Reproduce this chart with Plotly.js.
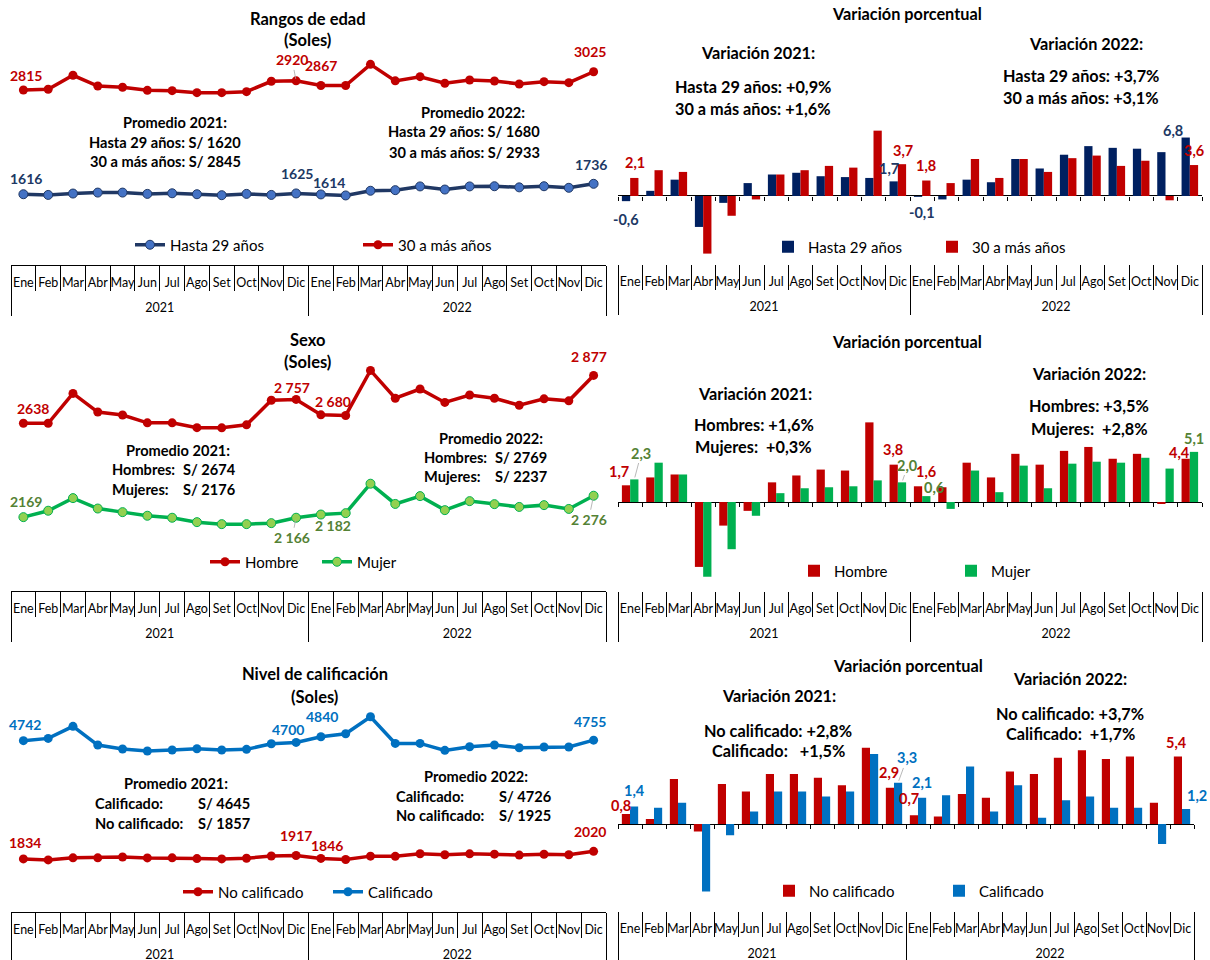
<!DOCTYPE html>
<html><head><meta charset="utf-8">
<script src="https://cdn.plot.ly/plotly-3.0.1.min.js"></script>
<style>html,body{margin:0;padding:0;background:#fff}#chart{width:1210px;height:960px}</style>
</head><body><div id="chart"></div>
<script>
// ---------------- DATA ----------------
const months = ['Ene','Feb','Mar','Abr','May','Jun','Jul','Ago','Set','Oct','Nov','Dic'];
const years = ['2021','2022'];

// Rangos de edad (Soles)
const hasta29 = [1616,1608,1624,1635,1635,1620,1627,1616,1605,1620,1608,1625, 1614,1602,1656,1663,1706,1670,1706,1708,1695,1708,1690,1736];
const mas30   = [2815,2823,2984,2861,2846,2811,2807,2784,2784,2796,2915,2920, 2867,2867,3110,2920,2968,2892,2930,2919,2884,2911,2899,3025];
// Variación porcentual (edad)
const varHasta29 = [-0.6,0.6,1.9,-3.6,-0.8,1.5,2.5,2.7,2.3,2.2,2.1,1.7, -0.1,-0.4,1.9,1.6,4.3,3.2,4.8,5.8,5.6,5.5,5.1,6.8];
const varMas30   = [2.1,3.0,2.8,-6.7,-2.3,-0.4,2.5,3.0,3.5,3.3,7.6,3.7, 1.8,1.5,4.3,2.1,4.3,2.8,4.4,4.7,3.5,4.1,-0.5,3.6];

// Sexo (Soles)
const hombre = [2638,2638,2787,2694,2679,2640,2640,2616,2615,2630,2753,2757, 2680,2677,2902,2763,2809,2742,2779,2763,2728,2760,2750,2877];
const mujer  = [2169,2201,2264,2212,2194,2176,2166,2144,2134,2134,2139,2166, 2182,2189,2336,2235,2274,2204,2249,2234,2220,2229,2210,2276];
// Variación porcentual (sexo)
const varHombre = [1.7,2.5,2.8,-6.6,-2.4,-0.9,2.0,2.7,3.3,3.2,8.1,3.8, 1.6,1.5,4.0,2.5,4.9,3.8,5.2,5.6,4.4,4.9,-0.2,4.4];
const varMujer  = [2.3,4.0,2.8,-7.6,-4.8,-1.4,0.9,1.4,1.5,1.6,2.2,2.0, 0.6,-0.7,3.2,1.0,3.7,1.4,3.9,4.1,4.0,4.5,3.4,5.1];

// Nivel de calificación (Soles)
const noCalificado = [1834,1809,1860,1860,1880,1858,1860,1842,1834,1850,1905,1917, 1846,1820,1902,1898,1960,1936,1959,1951,1928,1948,1936,2020];
const calificado   = [4742,4799,5095,4635,4537,4488,4512,4545,4512,4529,4668,4700, 4840,4914,5332,4676,4676,4504,4594,4635,4569,4586,4586,4755];
// Variación porcentual (calificación)
const varNoCalificado = [0.8,0.4,3.6,-0.6,3.2,2.6,4.0,4.0,3.7,3.1,6.1,2.9, 0.7,0.6,2.4,2.1,4.2,4.0,5.3,5.9,5.2,5.4,1.7,5.4];
const varCalificado   = [1.4,1.3,1.7,-5.4,-0.9,1.0,2.6,2.6,2.2,2.6,5.6,3.3, 2.1,2.3,4.6,1.0,3.1,0.5,1.9,2.2,1.3,1.3,-1.6,1.2];

// ---------------- HELPERS ----------------
const W = 1210, H = 960;
const FONT = 'Lato, "Liberation Sans", Arial, sans-serif';
const RED = '#C00000', NAVY = '#203864', NAVYBAR = '#002060', GREEN = '#00B050', LGREEN = '#92D050', DGREEN = '#548235', BLUE = '#0070C0';
const BARGAP = 0.32;
const barOff = (1 - BARGAP) / 4;
const TS = 16.5;   // titles
const RS = 16.3;   // right-panel notes
const PS = 14.6;   // promedio notes

const xYear = years.flatMap(y => months.map(() => y));
const xMonth = years.flatMap(() => months.slice());
const X = [xYear, xMonth];
const N = xMonth.length;
const RANGE = [-0.5, N - 0.5];
const monthIdx = xMonth.map((m, i) => i);
const yearCenters = years.map((y, k) => k * months.length + (months.length - 1) / 2);
const yearBounds = [-0.5].concat(years.map((y, k) => (k + 1) * months.length - 0.5));

function dom(top, bottom) { return [1 - bottom / H, 1 - top / H]; }
function xd(l, r) { return [l / W, r / W]; }

// main (data) axis: month separators as boundary ticks
function catAxis(l, r, anchor, line) {
  return {
    type: 'multicategory', domain: xd(l, r), anchor: anchor, range: RANGE,
    showline: line, linecolor: '#000', linewidth: 1,
    ticks: 'outside', tickson: 'boundaries', ticklen: 25, tickcolor: '#000', tickwidth: 1,
    showticklabels: false, showdividers: false,
    showgrid: false, zeroline: false, automargin: false, fixedrange: true
  };
}
function valAxis(t, b, range, anchor, zero) {
  return {
    domain: dom(t, b), range: range, anchor: anchor, showgrid: false,
    zeroline: zero, zerolinecolor: '#000', zerolinewidth: 1,
    showticklabels: false, ticks: '', showline: false, fixedrange: true, automargin: false
  };
}
function freeAxis(overlay, l, r, pos, extra) {
  return Object.assign({
    overlaying: overlay, anchor: 'free', position: pos, domain: xd(l, r), range: RANGE, type: 'linear',
    showline: false, showgrid: false, zeroline: false, fixedrange: true, automargin: false,
    tickfont: { size: 12.5, color: '#000', family: FONT }, tickcolor: '#000', tickwidth: 1
  }, extra);
}
function leg(xpx, ypx) {
  return { x: xpx / W, y: 1 - ypx / H, xanchor: 'left', yanchor: 'middle', orientation: 'h',
    bgcolor: 'rgba(0,0,0,0)', borderwidth: 0, font: { size: 15, color: '#000', family: FONT } };
}
function txt(xpx, ypx, text, size, anchor) {
  return { xref: 'paper', yref: 'paper', x: xpx / W, y: 1 - ypx / H, text: '<b>' + text + '</b>',
    showarrow: false, xanchor: anchor || 'center', yanchor: 'middle',
    font: { size: size || 14, color: '#000', family: FONT } };
}
const fmtInt = v => String(v);
const fmtSp = v => String(v).replace(/\B(?=(\d{3})+(?!\d))/g, ' ');
const fmtDec = v => v.toFixed(1).replace('.', ',');

function lab(xa, ya, arr, i, fmt, color, dx, dy, leader, side, size) {
  const a = { xref: xa, yref: ya, x: i + (side || 0) * barOff, y: arr[i], text: '<b>' + fmt(arr[i]) + '</b>',
    font: { size: size || 14, color: color, family: FONT }, xanchor: 'center', yanchor: 'middle' };
  if (leader) {
    Object.assign(a, { showarrow: true, ax: dx, ay: dy, arrowhead: 0, arrowwidth: 0.8, arrowcolor: '#A6A6A6', standoff: 2 });
  } else {
    Object.assign(a, { showarrow: false, xshift: dx, yshift: -dy });
  }
  return a;
}

// ---------------- PANEL GEOMETRY (px) ----------------
const P = [
  { id: '',  l: 11,  r: 606,  t: 50,  b: 265, yr: [802, 3275],    bars: false },
  { id: '2', l: 618, r: 1202, t: 50,  b: 264, yr: [-7.91, 16.98], bars: true },
  { id: '3', l: 11,  r: 606,  t: 350, b: 591, yr: [1800, 3004],   bars: false },
  { id: '4', l: 618, r: 1202, t: 350, b: 591, yr: [-9.05, 15.46], bars: true },
  { id: '5', l: 11,  r: 606,  t: 690, b: 912, yr: [528, 5989],    bars: false },
  { id: '6', l: 618, r: 1194, t: 690, b: 911, yr: [-6.96, 10.72], bars: true }
];

// ---------------- TRACES ----------------
const common = { x: X, hoverinfo: 'skip' };
const traces = [
  Object.assign({ type: 'scatter', mode: 'lines+markers', y: hasta29, xaxis: 'x', yaxis: 'y', name: 'Hasta 29 años', legend: 'legend',
    line: { color: NAVY, width: 3.5 }, marker: { size: 9, color: '#4472C4', line: { color: NAVY, width: 1 } } }, common),
  Object.assign({ type: 'scatter', mode: 'lines+markers', y: mas30, xaxis: 'x', yaxis: 'y', name: '30 a más años', legend: 'legend2',
    line: { color: RED, width: 3.5 }, marker: { size: 9, color: RED } }, common),

  Object.assign({ type: 'bar', y: varHasta29, xaxis: 'x2', yaxis: 'y2', name: 'Hasta 29 años', legend: 'legend3', marker: { color: NAVYBAR } }, common),
  Object.assign({ type: 'bar', y: varMas30, xaxis: 'x2', yaxis: 'y2', name: '30 a más años', legend: 'legend4', marker: { color: RED } }, common),

  Object.assign({ type: 'scatter', mode: 'lines+markers', y: hombre, xaxis: 'x3', yaxis: 'y3', name: 'Hombre', legend: 'legend5',
    line: { color: RED, width: 3.5 }, marker: { size: 9, color: RED } }, common),
  Object.assign({ type: 'scatter', mode: 'lines+markers', y: mujer, xaxis: 'x3', yaxis: 'y3', name: 'Mujer', legend: 'legend6',
    line: { color: GREEN, width: 3.5 }, marker: { size: 9, color: LGREEN, line: { color: GREEN, width: 1 } } }, common),

  Object.assign({ type: 'bar', y: varHombre, xaxis: 'x4', yaxis: 'y4', name: 'Hombre', legend: 'legend7', marker: { color: RED } }, common),
  Object.assign({ type: 'bar', y: varMujer, xaxis: 'x4', yaxis: 'y4', name: 'Mujer', legend: 'legend8', marker: { color: GREEN } }, common),

  Object.assign({ type: 'scatter', mode: 'lines+markers', y: noCalificado, xaxis: 'x5', yaxis: 'y5', name: 'No calificado', legend: 'legend9',
    line: { color: RED, width: 3.5 }, marker: { size: 9, color: RED } }, common),
  Object.assign({ type: 'scatter', mode: 'lines+markers', y: calificado, xaxis: 'x5', yaxis: 'y5', name: 'Calificado', legend: 'legend10',
    line: { color: BLUE, width: 3.5 }, marker: { size: 9, color: BLUE } }, common),

  Object.assign({ type: 'bar', y: varNoCalificado, xaxis: 'x6', yaxis: 'y6', name: 'No calificado', legend: 'legend11', marker: { color: RED } }, common),
  Object.assign({ type: 'bar', y: varCalificado, xaxis: 'x6', yaxis: 'y6', name: 'Calificado', legend: 'legend12', marker: { color: BLUE } }, common)
];

// ---------------- LAYOUT ----------------
const layout = {
  width: W, height: H, margin: { l: 0, r: 0, t: 0, b: 0 }, autosize: false,
  paper_bgcolor: '#fff', plot_bgcolor: 'rgba(0,0,0,0)',
  font: { family: FONT, color: '#000' },
  barmode: 'group', bargap: BARGAP, bargroupgap: 0,
  hovermode: false, showlegend: true,
  legend: leg(130, 245), legend2: leg(358, 245),
  legend3: leg(768, 247), legend4: leg(932, 247),
  legend5: leg(205, 562), legend6: leg(317, 562),
  legend7: leg(794, 571), legend8: leg(951, 571),
  legend9: leg(178, 892), legend10: leg(328, 892),
  legend11: leg(769, 891), legend12: leg(939, 891)
};

let nextAx = 7;
function addFree(p, extra) {
  const id = 'x' + nextAx;
  layout['xaxis' + nextAx] = extra;
  traces.push({ type: 'scatter', x: [], y: [], xaxis: id, yaxis: 'y' + p.id, showlegend: false, hoverinfo: 'skip' });
  nextAx++;
}
P.forEach(p => {
  const d = dom(p.t, p.b);
  layout['xaxis' + p.id] = catAxis(p.l, p.r, 'y' + p.id, !p.bars);
  layout['yaxis' + p.id] = valAxis(p.t, p.b, p.yr, 'x' + p.id, p.bars);
  const main = 'x' + p.id;
  // small ticks on the zero line of the bar charts
  if (p.bars) {
    const pos = d[0] + (0 - p.yr[0]) / (p.yr[1] - p.yr[0]) * (d[1] - d[0]);
    addFree(p, freeAxis(main, p.l, p.r, pos, { tickmode: 'linear', tick0: -0.5, dtick: 1, ticks: 'outside', ticklen: 4, showticklabels: false }));
  }
  // month labels
  addFree(p, freeAxis(main, p.l, p.r, d[0], { tickmode: 'array', tickvals: monthIdx, ticktext: xMonth, ticks: '', ticklabelstandoff: 8, tickangle: 0 }));
  // year dividers
  addFree(p, freeAxis(main, p.l, p.r, d[0], { tickmode: 'array', tickvals: yearBounds, ticks: 'outside', ticklen: 50, showticklabels: false }));
  // year labels
  addFree(p, freeAxis(main, p.l, p.r, d[0], { tickmode: 'array', tickvals: yearCenters, ticktext: years, ticks: '', ticklabelstandoff: 33, tickangle: 0 }));
});

// ---------------- ANNOTATIONS ----------------
layout.annotations = [
  // Panel 1
  txt(308, 19, 'Rangos de edad', TS), txt(308, 40, '(Soles)', TS),
  txt(175, 122, 'Promedio 2021:', PS), txt(165, 142, 'Hasta 29 años: S/ 1620', PS), txt(165, 162, '30 a más años: S/ 2845', PS),
  txt(473, 113, 'Promedio 2022:', PS), txt(464, 132, 'Hasta 29 años: S/ 1680', PS), txt(464, 152, '30 a más años: S/ 2933', PS),
  lab('x', 'y', mas30, 0, fmtInt, RED, 3, -14), lab('x', 'y', mas30, 11, fmtInt, RED, -4, -21, true),
  lab('x', 'y', mas30, 12, fmtInt, RED, 0, -20), lab('x', 'y', mas30, 23, fmtInt, RED, -4, -20),
  lab('x', 'y', hasta29, 0, fmtInt, NAVY, 3, -16), lab('x', 'y', hasta29, 11, fmtInt, NAVY, 1, -20),
  lab('x', 'y', hasta29, 12, fmtInt, NAVY, 8, -12), lab('x', 'y', hasta29, 23, fmtInt, NAVY, -3, -19),

  // Panel 2
  txt(907, 14, 'Variación porcentual', RS),
  txt(758, 53, 'Variación 2021:', RS), txt(753, 87, 'Hasta 29 años: +0,9%', RS), txt(753, 108, '30 a más años: +1,6%', RS),
  txt(1086, 43, 'Variación 2022:', RS), txt(1081, 75, 'Hasta 29 años: +3,7%', RS), txt(1081, 97, '30 a más años: +3,1%', RS),
  lab('x2', 'y2', varHasta29, 0, fmtDec, NAVY, 0, 18, false, -1, 14.5), lab('x2', 'y2', varMas30, 0, fmtDec, RED, 1, -15, false, 1, 14.5),
  lab('x2', 'y2', varHasta29, 11, fmtDec, NAVY, -5, -13, false, -1, 14.5), lab('x2', 'y2', varMas30, 11, fmtDec, RED, 1, -14, false, 1, 14.5),
  lab('x2', 'y2', varHasta29, 12, fmtDec, NAVY, 4, 16, false, -1, 14.5), lab('x2', 'y2', varMas30, 12, fmtDec, RED, 0, -15.5, false, 1, 14.5),
  lab('x2', 'y2', varHasta29, 23, fmtDec, NAVY, -13, -7.5, false, -1, 14.5), lab('x2', 'y2', varMas30, 23, fmtDec, RED, 0, -15, false, 1, 14.5),

  // Panel 3
  txt(308, 340, 'Sexo', TS), txt(308, 362, '(Soles)', TS),
  txt(232, 451, 'Promedio 2021:', PS, 'right'),
  txt(110, 470, 'Hombres:', PS, 'left'), txt(181, 470, 'S/ 2674', PS, 'left'),
  txt(110, 489, 'Mujeres:', PS, 'left'), txt(181, 489, 'S/ 2176', PS, 'left'),
  txt(545, 438, 'Promedio 2022:', PS, 'right'),
  txt(422, 457, 'Hombres:', PS, 'left'), txt(493, 457, 'S/ 2769', PS, 'left'),
  txt(422, 477, 'Mujeres:', PS, 'left'), txt(493, 477, 'S/ 2237', PS, 'left'),
  lab('x3', 'y3', hombre, 0, fmtInt, RED, 10, -15), lab('x3', 'y3', hombre, 11, fmtSp, RED, -4, -12),
  lab('x3', 'y3', hombre, 12, fmtSp, RED, 12, -13), lab('x3', 'y3', hombre, 23, fmtSp, RED, -5, -18.5),
  lab('x3', 'y3', mujer, 0, fmtInt, DGREEN, 3, -16), lab('x3', 'y3', mujer, 11, fmtSp, DGREEN, -4, 20, true),
  lab('x3', 'y3', mujer, 12, fmtSp, DGREEN, 12, 11), lab('x3', 'y3', mujer, 23, fmtSp, DGREEN, -5, 24, true),

  // Panel 4
  txt(907, 342, 'Variación porcentual', RS),
  txt(755, 393, 'Variación 2021:', RS), txt(754, 425, 'Hombres: +1,6%', RS), txt(754, 447, 'Mujeres:  +0,3%', RS),
  txt(1089, 373, 'Variación 2022:', RS), txt(1089, 406, 'Hombres: +3,5%', RS), txt(1089, 428, 'Mujeres:  +2,8%', RS),
  lab('x4', 'y4', varHombre, 0, fmtDec, RED, -7, -13.3, false, -1, 14.5), lab('x4', 'y4', varMujer, 0, fmtDec, DGREEN, 7, -26.4, true, 1, 14.5),
  lab('x4', 'y4', varHombre, 11, fmtDec, RED, -0.5, -15.6, false, -1, 14.5), lab('x4', 'y4', varMujer, 11, fmtDec, DGREEN, 6, -17.3, true, 1, 14.5),
  lab('x4', 'y4', varHombre, 12, fmtDec, RED, 8, -15, false, -1, 14.5), lab('x4', 'y4', varMujer, 12, fmtDec, DGREEN, 8, -9, false, 1, 14.5),
  lab('x4', 'y4', varHombre, 23, fmtDec, RED, -6.5, -6.7, false, -1, 14.5), lab('x4', 'y4', varMujer, 23, fmtDec, DGREEN, 0, -13, false, 1, 14.5),

  // Panel 5
  txt(315, 674, 'Nivel de calificación', TS), txt(314, 697, '(Soles)', TS),
  txt(176, 783, 'Promedio 2021:', PS),
  txt(93, 803, 'Calificado:', PS, 'left'), txt(196, 803, 'S/ 4645', PS, 'left'),
  txt(93, 823, 'No calificado:', PS, 'left'), txt(196, 823, 'S/ 1857', PS, 'left'),
  txt(476, 776, 'Promedio 2022:', PS),
  txt(394, 796, 'Calificado:', PS, 'left'), txt(497, 796, 'S/ 4726', PS, 'left'),
  txt(394, 815, 'No calificado:', PS, 'left'), txt(497, 815, 'S/ 1925', PS, 'left'),
  lab('x5', 'y5', calificado, 0, fmtInt, BLUE, 2, -16), lab('x5', 'y5', calificado, 11, fmtInt, BLUE, -8, -13),
  lab('x5', 'y5', calificado, 12, fmtInt, BLUE, 1, -20), lab('x5', 'y5', calificado, 23, fmtInt, BLUE, -4, -19),
  lab('x5', 'y5', noCalificado, 0, fmtInt, RED, 2, -16), lab('x5', 'y5', noCalificado, 11, fmtInt, RED, 0, -20.5),
  lab('x5', 'y5', noCalificado, 12, fmtInt, RED, 6, -13), lab('x5', 'y5', noCalificado, 23, fmtInt, RED, -4, -20),

  // Panel 6
  txt(908, 665, 'Variación porcentual', RS),
  txt(779, 695, 'Variación 2021:', RS), txt(778, 730, 'No calificado: +2,8%', RS), txt(778, 750, 'Calificado:   +1,5%', RS),
  txt(1070, 678, 'Variación 2022:', RS), txt(1070, 713, 'No calificado: +3,7%', RS), txt(1070, 733, 'Calificado:  +1,7%', RS),
  lab('x6', 'y6', varNoCalificado, 0, fmtDec, RED, -5, -9, false, -1, 14.5), lab('x6', 'y6', varCalificado, 0, fmtDec, BLUE, 0, -16.5, false, 1, 14.5),
  lab('x6', 'y6', varNoCalificado, 11, fmtDec, RED, -1, -14.8, false, -1, 14.5), lab('x6', 'y6', varCalificado, 11, fmtDec, BLUE, 9, -24.8, true, 1, 14.5),
  lab('x6', 'y6', varNoCalificado, 12, fmtDec, RED, -5, -17, false, -1, 14.5), lab('x6', 'y6', varCalificado, 12, fmtDec, BLUE, 0, -14.8, false, 1, 14.5),
  lab('x6', 'y6', varNoCalificado, 23, fmtDec, RED, -1.5, -14.5, false, -1, 14.5), lab('x6', 'y6', varCalificado, 23, fmtDec, BLUE, 11, -14, false, 1, 14.5)
];

Plotly.newPlot('chart', traces, layout, { displayModeBar: false, staticPlot: true });
</script>
</body></html>
